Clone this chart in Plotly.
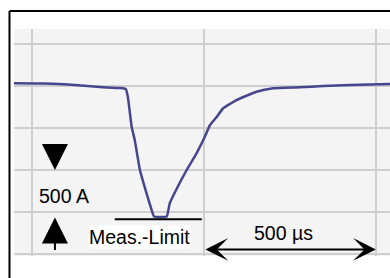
import plotly.graph_objects as go

# Oscilloscope trace (time in µs, current in A)
time_us = [-52, 9, 61, 125, 198, 256, 273, 279, 290, 299, 314, 333, 348, 355, 372, 392,
           401, 424, 450, 479, 503, 517, 537, 556, 595, 653, 701, 779, 846, 924, 1041]
current_A = [2032, 2030, 2027, 2012, 1988, 1976, 1964, 1869, 1515, 1357, 1000, 726, 524, 446, 440, 446,
             607, 801, 1000, 1202, 1399, 1530, 1630, 1735, 1833, 1932, 1973, 1985, 2000, 2012, 2024]

meas_limit_A = 413
meas_limit_span_us = [241, 494]
grid_step_A = 500
grid_step_us = 500

fig = go.Figure()
fig.add_trace(go.Scatter(x=time_us, y=current_A, mode="lines", line_shape="spline",
                         line=dict(color="#46468f", width=2.5, smoothing=0.4), hoverinfo="skip"))

fig.add_shape(type="line", xref="x", yref="y",
              x0=meas_limit_span_us[0], x1=meas_limit_span_us[1],
              y0=meas_limit_A, y1=meas_limit_A, line=dict(color="black", width=2))

# outer frame (top and left)
fig.add_shape(type="line", xref="paper", yref="paper", x0=-0.012, x1=1.01, y0=1.0793, y1=1.0793,
              line=dict(color="black", width=2))
fig.add_shape(type="line", xref="paper", yref="paper", x0=-0.012, x1=-0.012, y0=1.0793, y1=-0.12,
              line=dict(color="black", width=2))

font = dict(family="Arial, Liberation Sans, sans-serif", size=19.5, color="black")

# 500 A arrows
fig.add_annotation(x=67, y=1000, ax=67, ay=1321, xref="x", yref="y", axref="x", ayref="y",
                   text="", showarrow=True, arrowhead=2, arrowsize=2.6, arrowwidth=2, arrowcolor="black")
fig.add_annotation(x=67, y=435, ax=67, ay=30, xref="x", yref="y", axref="x", ayref="y",
                   text="", showarrow=True, arrowhead=2, arrowsize=2.6, arrowwidth=2, arrowcolor="black")
fig.add_annotation(x=94, y=690, text="500 A", showarrow=False, font=font)

# 500 µs double arrow
fig.add_annotation(x=1000, y=54, ax=500, ay=54, xref="x", yref="y", axref="x", ayref="y",
                   text="", showarrow=True, arrowhead=3, startarrowhead=3, arrowside="end+start",
                   arrowsize=1.9, startarrowsize=1.9, arrowwidth=2, arrowcolor="black")
fig.add_annotation(x=730, y=244, text="500 µs", showarrow=False, font=font)

fig.add_annotation(x=312, y=202, text="Meas.-Limit", showarrow=False, font=font,
                   bgcolor="white", borderpad=0)

fig.update_xaxes(range=[-52, 1041], dtick=grid_step_us, tick0=0, showgrid=True,
                 gridcolor="#cfcfcf", gridwidth=2, showticklabels=False, zeroline=False,
                 ticks="", showline=False)
fig.update_yaxes(range=[-24, 2679], dtick=grid_step_A, tick0=0, showgrid=True,
                 gridcolor="#cfcfcf", gridwidth=2, showticklabels=False, zeroline=False,
                 ticks="", showline=False)

fig.update_layout(width=390, height=278, margin=dict(l=14, r=0, t=29, b=22),
                  plot_bgcolor="#f4f4f4", paper_bgcolor="white", showlegend=False)

fig.write_html("out.html", config={"displayModeBar": False},
               post_script="document.body.style.margin='0';")
